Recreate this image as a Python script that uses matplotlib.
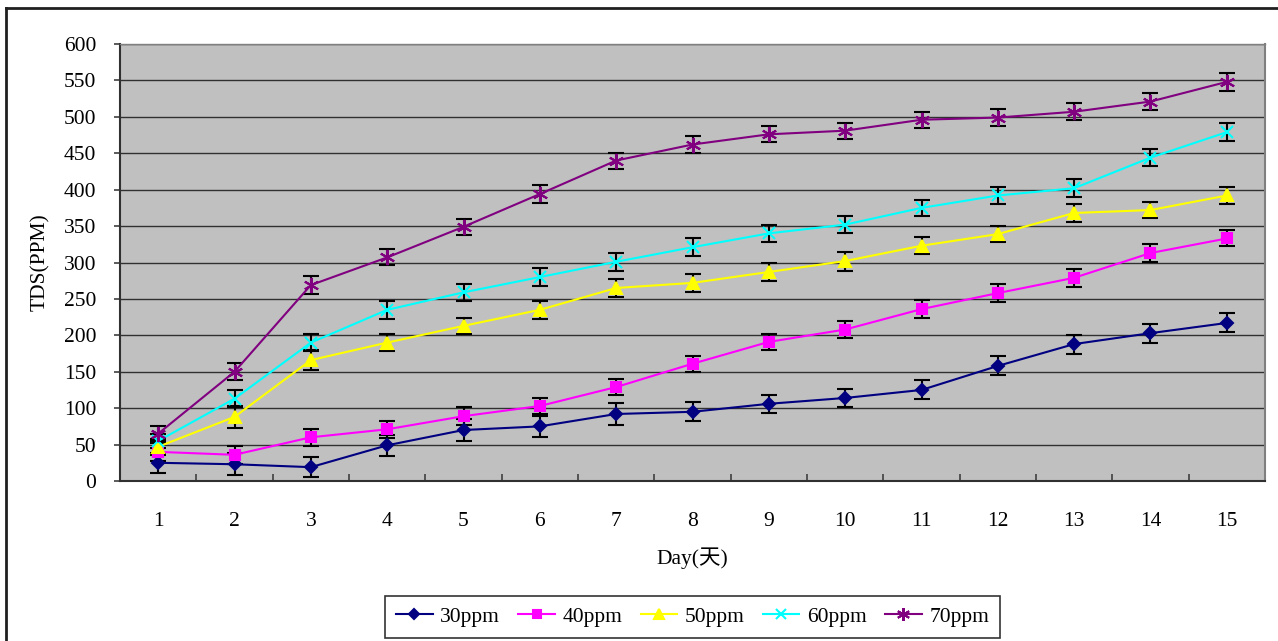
import matplotlib
matplotlib.use("Agg")
import matplotlib.pyplot as plt
from matplotlib.lines import Line2D

plt.rcParams['font.family'] = ['Liberation Serif', 'Noto Sans CJK TC', 'DejaVu Sans']

days = list(range(1, 16))
series_names = ["30ppm", "40ppm", "50ppm", "60ppm", "70ppm"]

tds_30 = [25, 23, 19, 49, 70, 75, 92, 95, 106, 114, 125, 158, 188, 203, 217]
tds_40 = [40, 36, 60, 71, 89, 103, 129, 161, 191, 208, 236, 258, 279, 313, 333]
tds_50 = [47, 88, 166, 190, 213, 235, 265, 272, 287, 302, 323, 339, 368, 372, 392]
tds_60 = [55, 113, 190, 235, 259, 280, 301, 321, 340, 352, 375, 392, 402, 444, 479]
tds_70 = [65, 150, 269, 307, 349, 394, 440, 462, 476, 481, 496, 499, 507, 521, 548]

err_30 = [14, 15, 14, 14, 15, 14, 15, 13, 12, 13, 13, 13, 13, 13, 13]
err_40 = [12, 12, 12, 12, 12, 11, 11, 11, 11, 12, 12, 12, 12, 12, 11]
err_50 = [11, 15, 14, 12, 11, 12, 12, 12, 12, 13, 12, 11, 12, 11, 12]
err_60 = [10, 12, 12, 12, 12, 12, 12, 12, 12, 12, 11, 11, 12, 12, 12]
err_70 = [10, 12, 12, 11, 11, 12, 11, 11, 11, 11, 11, 12, 12, 12, 12]

yticks = list(range(0, 601, 50))
xlabel = "Day(天)"
ylabel = "TDS(PPM)"

series = [tds_30, tds_40, tds_50, tds_60, tds_70]
errors = [err_30, err_40, err_50, err_60, err_70]
colors = ["#000080", "#FF00FF", "#FFFF00", "#00FFFF", "#800080"]
markers = ["D", "s", "^", "x", (6, 2, 0)]
msizes = [6, 7, 8, 9, 11]

FS = 15.5

fig = plt.figure(figsize=(12.78, 6.41), dpi=100)
fig.patch.set_facecolor("white")
ax = fig.add_axes([120/1278, 1-481/641, 1145/1278, 437/641])
ax.set_facecolor("#C0C0C0")

for vals, errs, c, m, ms, name in zip(series, errors, colors, markers, msizes, series_names):
    ax.errorbar(days, vals, yerr=errs, fmt="none", ecolor="black", elinewidth=1.5,
                capsize=5.5, capthick=1.5, zorder=2)
    ax.plot(days, vals, color=c, lw=1.5, marker=m, ms=ms, mec=c, mfc=c, mew=1.5, label=name, zorder=3)

ax.set_xlim(0.5, 15.5)
ax.set_ylim(0, 600)
ax.set_yticks(yticks)
ax.set_yticklabels([str(v) for v in yticks], fontsize=FS)
ax.set_xticks(days)
ax.set_xticklabels([str(d) for d in days], fontsize=FS)
ax.tick_params(axis="x", length=0, pad=22)
ax.set_xticks([d + 0.5 for d in range(0, 15)], minor=True)
ax.tick_params(axis="x", which="minor", direction="in", length=5, width=1.2, color="#404040")
ax.tick_params(axis="y", direction="out", length=4, width=1.2, color="#404040", pad=13)
ax.yaxis.grid(True, color="black", lw=1.0, alpha=0.75)
ax.set_axisbelow(True)

for s in ["left", "bottom"]:
    ax.spines[s].set_color("#303030")
    ax.spines[s].set_linewidth(1.5)
ax.spines["top"].set_color("#808080")
ax.spines["top"].set_linewidth(1.0)
ax.spines["right"].set_color("#808080")
ax.spines["right"].set_linewidth(1.5)

ax.set_xlabel(xlabel, fontsize=FS, labelpad=12)
ax.set_ylabel(ylabel, fontsize=FS, labelpad=10)

handles = [Line2D([0], [0], color=c, lw=1.5, marker=m, ms=ms * 0.85, mec=c, mfc=c, mew=1.5)
           for c, m, ms in zip(colors, markers, msizes)]
leg = ax.legend(handles, series_names, loc="center", bbox_to_anchor=(0.5, -0.311), ncol=5,
                fontsize=FS, frameon=True, fancybox=False, edgecolor="black",
                handlelength=1.7, handletextpad=0.35, columnspacing=0.85, borderpad=0.5)
leg.get_frame().set_linewidth(1.2)

# outer chart frame
fig.add_artist(Line2D([6/1278, 6/1278], [0, 1-8/641], transform=fig.transFigure, color="#202020", lw=2))
fig.add_artist(Line2D([6/1278, 1], [1-8/641, 1-8/641], transform=fig.transFigure, color="#202020", lw=2))

fig.savefig("out.png", dpi=100)
